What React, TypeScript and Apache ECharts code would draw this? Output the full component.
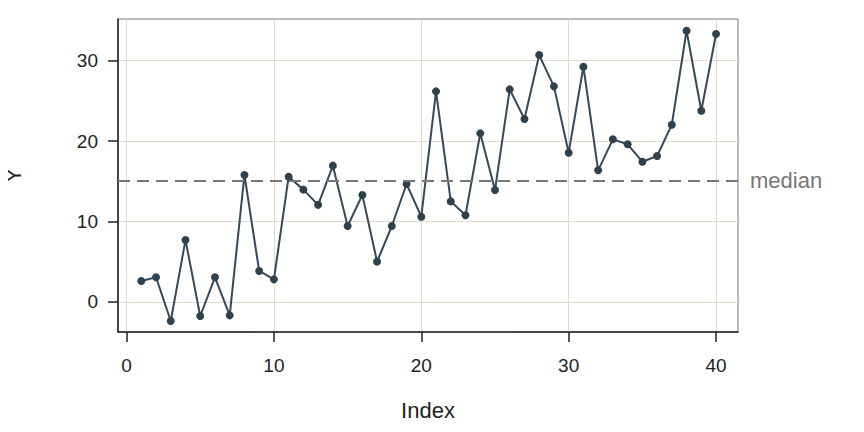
import React, { useEffect, useRef } from "react";
import * as echarts from "echarts";

const indices: number[] = [
  1, 2, 3, 4, 5, 6, 7, 8, 9, 10, 11, 12, 13, 14, 15, 16, 17, 18, 19, 20,
  21, 22, 23, 24, 25, 26, 27, 28, 29, 30, 31, 32, 33, 34, 35, 36, 37, 38, 39, 40,
];
const yValues: number[] = [
  2.6, 3.07, -2.36, 7.7, -1.74, 3.07, -1.66, 15.78, 3.85, 2.81,
  15.57, 13.96, 12.07, 16.94, 9.44, 13.29, 5.01, 9.44, 14.66, 10.6,
  26.17, 12.5, 10.77, 20.95, 13.91, 26.42, 22.73, 30.68, 26.79, 18.55,
  29.23, 16.36, 20.21, 19.59, 17.43, 18.14, 22.03, 33.7, 23.76, 33.29,
];
const xTicks: number[] = [0, 10, 20, 30, 40];
const yTicks: number[] = [0, 10, 20, 30];

function median(arr: number[]): number {
  const s = [...arr].sort((a, b) => a - b);
  const n = s.length;
  return n % 2 ? s[(n - 1) / 2] : (s[n / 2 - 1] + s[n / 2]) / 2;
}

export default function App() {
  const ref = useRef<HTMLDivElement>(null);
  useEffect(() => {
    if (!ref.current) return;
    const chart = echarts.init(ref.current, undefined, { renderer: "svg" });
    const font = "Liberation Sans, Arial, Helvetica, sans-serif";
    const gridColor = "#e0dacb";
    const med = median(yValues);
    chart.setOption({
      animation: false,
      textStyle: { fontFamily: font },
      grid: {
        left: 118,
        right: 126,
        top: 19,
        bottom: 100,
        containLabel: false,
        outerBoundsMode: "none",
        show: true,
        borderColor: "#777",
        borderWidth: 1,
        backgroundColor: "#fff",
      },
      xAxis: {
        type: "value",
        min: -0.58,
        max: 41.49,
        name: "Index",
        nameLocation: "middle",
        nameGap: 67,
        nameTextStyle: { fontSize: 22, color: "#222", fontFamily: font },
        axisLine: { show: true, onZero: false, lineStyle: { color: "#222", width: 1.5 } },
        axisTick: { show: true, length: 10, customValues: xTicks, lineStyle: { color: "#222", width: 1.5 } },
        axisLabel: { customValues: xTicks, fontSize: 19, color: "#222", margin: 24, fontFamily: font },
        splitLine: { show: true, lineStyle: { color: gridColor, width: 1 } },
      },
      yAxis: {
        type: "value",
        min: -3.73,
        max: 35.16,
        name: "Y",
        nameLocation: "middle",
        nameGap: 94,
        nameTextStyle: { fontSize: 22, color: "#222", fontFamily: font },
        axisLine: { show: true, onZero: false, lineStyle: { color: "#222", width: 1.5 } },
        axisTick: { show: true, length: 10, customValues: yTicks, lineStyle: { color: "#222", width: 1.5 } },
        axisLabel: { customValues: yTicks, fontSize: 19, color: "#222", margin: 20, fontFamily: font },
        splitLine: { show: true, lineStyle: { color: gridColor, width: 1 } },
      },
      series: [
        {
          type: "line",
          data: indices.map((x, i) => [x, yValues[i]]),
          symbol: "circle",
          symbolSize: 8,
          showSymbol: true,
          itemStyle: { color: "#2d424e" },
          lineStyle: { color: "#34495a", width: 2 },
          markLine: {
            silent: true,
            symbol: "none",
            data: [{ yAxis: med }],
            lineStyle: { color: "#777", type: [12, 7], width: 2 },
            label: {
              show: true,
              position: "end",
              distance: 12,
              formatter: "median",
              fontSize: 22,
              color: "#777",
              fontFamily: font,
            },
          },
        },
      ],
    });
    return () => chart.dispose();
  }, []);
  return <div ref={ref} style={{ width: 864, height: 432, margin: -8 }} />;
}
